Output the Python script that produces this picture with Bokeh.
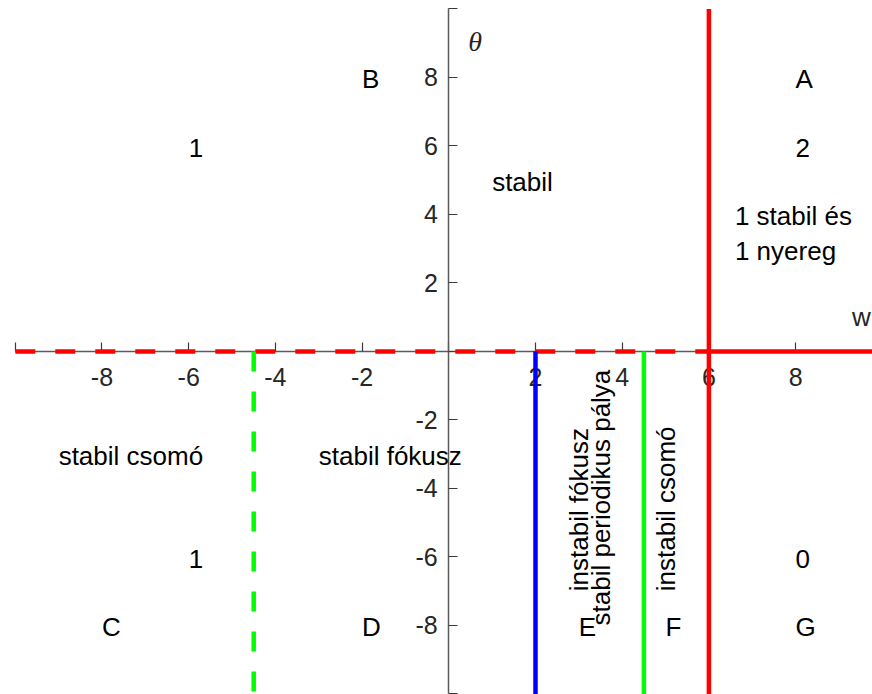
from bokeh.plotting import figure
from bokeh.models import Range1d, FixedTicker, ColumnDataSource
from bokeh.core.properties import value
from bokeh.embed import file_html
from bokeh.resources import INLINE

# Bifurcation boundaries in the (w, theta) plane
W_MIN, W_MAX = -10, 10
TH_MIN, TH_MAX = -10, 10
NODE_W_NEG = -4.5        # stable node / stable focus boundary
HOPF_W = 2.0             # Hopf line
NODE_W_POS = 4.5         # unstable focus / unstable node boundary
SADDLE_NODE_W = 6.0      # saddle-node line
THETA_ZERO = 0.0

tick_values = [-10, -8, -6, -4, -2, 0, 2, 4, 6, 8, 10]
hidden_tick_labels = [-10, 0, 10]

# Region names and counts of equilibria
label_text = ["B", "A", "1", "2", "stabil", "1 stabil és", "1 nyereg",
              "stabil csomó", "stabil fókusz", "1", "0",
              "C", "D", "E", "F", "G"]
label_x = [-2, 8, -6, 8, 1, 6.6, 6.6, -9, -3, -6, 8, -8, -2, 3, 5, 8]
label_y = [8, 8, 6, 6, 5, 4, 3, -3, -3, -6, -6, -8, -8, -8, -8, -8]

# Vertical annotations along the lower half-plane lines
vert_text = ["instabil fókusz", "stabil periodikus pálya", "instabil csomó"]
vert_x = [3.0, 3.5, 5.0]
vert_y = [-7.0, -8.0, -7.0]

p = figure(width=872, height=694,
           x_range=Range1d(-10.341, 9.774), y_range=Range1d(-10.015, 10.248),
           output_backend="svg", toolbar_location=None,
           min_border=0, outline_line_color=None,
           background_fill_color="white", border_fill_color="white")
p.grid.visible = False

# Tick labels with a plain hyphen as the minus sign
tick_label_map = {t: ("" if t in hidden_tick_labels else str(t)) for t in tick_values}

# Axes crossing at the origin
for ax in (p.xaxis, p.yaxis):
    ax.fixed_location = 0
    ax.bounds = (-10, 10)
    ax.ticker = FixedTicker(ticks=tick_values, minor_ticks=[])
    ax.major_label_overrides = tick_label_map
    ax.major_tick_in = 9
    ax.major_tick_out = 0
    ax.minor_tick_in = 0
    ax.minor_tick_out = 0
    ax.axis_line_color = "#5a5a5a"
    ax.axis_line_width = 1.5
    ax.major_tick_line_color = "#3a3a3a"
    ax.major_tick_line_width = 1.2
    ax.major_label_text_font = "Liberation Sans"
    ax.major_label_text_font_size = "25px"
    ax.major_label_text_color = "#262626"
    ax.level = "underlay"
p.xaxis.major_label_standoff = 17
p.yaxis.major_label_standoff = 11

lw = 4.5
# theta = 0: dashed up to the saddle-node line, solid beyond
p.line([W_MIN, SADDLE_NODE_W], [THETA_ZERO, THETA_ZERO], line_color="#ff0000",
       line_width=lw, line_dash="20 20", line_cap="butt")
p.line([SADDLE_NODE_W, W_MAX], [THETA_ZERO, THETA_ZERO], line_color="#ff0000",
       line_width=lw, line_cap="butt")
# node/focus boundary for w < 0
p.line([NODE_W_NEG, NODE_W_NEG], [THETA_ZERO, TH_MIN], line_color="#00ff00",
       line_width=lw, line_dash="20 20", line_cap="butt")
# Hopf line
p.line([HOPF_W, HOPF_W], [THETA_ZERO, TH_MIN], line_color="#0000ff",
       line_width=lw, line_cap="butt")
# node/focus boundary for w > 0
p.line([NODE_W_POS, NODE_W_POS], [THETA_ZERO, TH_MIN], line_color="#00ff00",
       line_width=lw, line_cap="butt")
# saddle-node line
p.line([SADDLE_NODE_W, SADDLE_NODE_W], [TH_MIN, TH_MAX], line_color="#ff0000",
       line_width=lw, line_cap="butt")

labels = ColumnDataSource(dict(x=label_x, y=label_y, text=label_text))
p.text(x="x", y="y", text="text", source=labels,
       text_font=value("Liberation Sans"), text_font_size="26px",
       text_color="black", text_align="left", text_baseline="middle",
       y_offset=2)

vlabels = ColumnDataSource(dict(x=vert_x, y=vert_y, text=vert_text))
p.text(x="x", y="y", text="text", source=vlabels, angle=90, angle_units="deg",
       text_font=value("Liberation Sans"), text_font_size="26px",
       text_color="black", text_align="left", text_baseline="middle")

# Axis names
p.text(x=[0.45], y=[9.05], text=["θ"], text_font=value("Liberation Serif"),
       text_font_style="italic", text_font_size="28px", text_color="#262626",
       text_align="left", text_baseline="middle")
p.text(x=[9.3], y=[1.0], text=["w"], text_font=value("Liberation Sans"),
       text_font_size="26px", text_color="#262626",
       text_align="left", text_baseline="middle")

open("out.html", "w").write(file_html(p, INLINE))
